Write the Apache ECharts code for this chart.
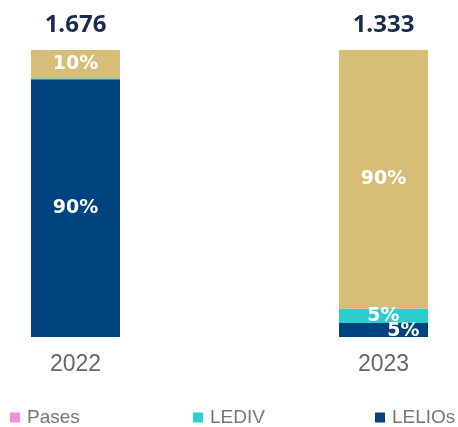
<!DOCTYPE html>
<html><head><meta charset="utf-8">
<script src="https://cdn.jsdelivr.net/npm/echarts@6/dist/echarts.min.js"></script>
<style>html,body{margin:0;padding:0;background:#fff}#c{width:458px;height:427px}</style>
</head><body><div id="c"></div>
<script>
const categories = ['2022', '2023'];
const totals = ['1.676', '1.333'];
const pases = [9.8, 90.2];
const lediv = [0.4, 4.9];
const lelios = [89.8, 4.9];

const C_PASES_BAR = '#D6BD78', C_PASES_LEG = '#F78DE2', C_LEDIV = '#2DCDCD', C_LELIOS = '#00447F';
const lblFont = {color: '#fff', fontSize: 19, fontWeight: 'bold', fontFamily: 'DejaVu Sans'};
function pctLabel(p){ return p.value < 2 ? '' : Math.round(p.value) + '%'; }
const legText = {color: '#777', fontSize: 19, fontFamily: 'Liberation Sans', padding: [0, 0, 0, 2]};

const chart = echarts.init(document.getElementById('c'));
chart.setOption({
  animation: false,
  grid: {left: 75.5, right: 74.5, top: 50, bottom: 90},
  xAxis: {type: 'category', data: categories, boundaryGap: false,
    axisLine: {show: false}, axisTick: {show: false},
    axisLabel: {color: '#666', fontSize: 23, margin: 16, fontFamily: 'Liberation Sans'}},
  yAxis: {type: 'value', min: 0, max: 100, show: false},
  legend: [
    {left: 10, top: 408, padding: 0, itemWidth: 10, itemHeight: 10, icon: 'rect', textStyle: legText,
     data: [{name: 'Pases', itemStyle: {color: C_PASES_LEG}}]},
    {left: 193, top: 408, padding: 0, itemWidth: 10, itemHeight: 10, icon: 'rect', textStyle: legText,
     data: ['LEDIV']},
    {left: 375, top: 408, padding: 0, itemWidth: 10, itemHeight: 10, icon: 'rect', textStyle: legText,
     data: ['LELIOs']}
  ],
  series: [
    {name: 'LELIOs', type: 'bar', stack: 's', barWidth: 89, itemStyle: {color: C_LELIOS},
     data: lelios.map((v, i) => i === 1 ? {value: v, label: {offset: [20, 1]}} : v),
     label: Object.assign({show: true, position: 'inside', formatter: pctLabel}, lblFont)},
    {name: 'LEDIV', type: 'bar', stack: 's', barWidth: 89, itemStyle: {color: C_LEDIV},
     data: lediv,
     label: Object.assign({show: true, position: 'inside', formatter: pctLabel}, lblFont)},
    {name: 'Pases', type: 'bar', stack: 's', barWidth: 89, itemStyle: {color: C_PASES_BAR},
     data: pases,
     label: Object.assign({show: true, position: 'inside', formatter: pctLabel}, lblFont)},
    {name: 'Total', type: 'bar', stack: 's', barWidth: 89, data: totals.map(() => 0),
     label: {show: true, position: 'top', distance: 13, formatter: p => totals[p.dataIndex],
       color: '#1B2B4B', fontSize: 24, fontWeight: 'bold', fontFamily: 'Open Sans'}}
  ]
});
</script></body></html>
